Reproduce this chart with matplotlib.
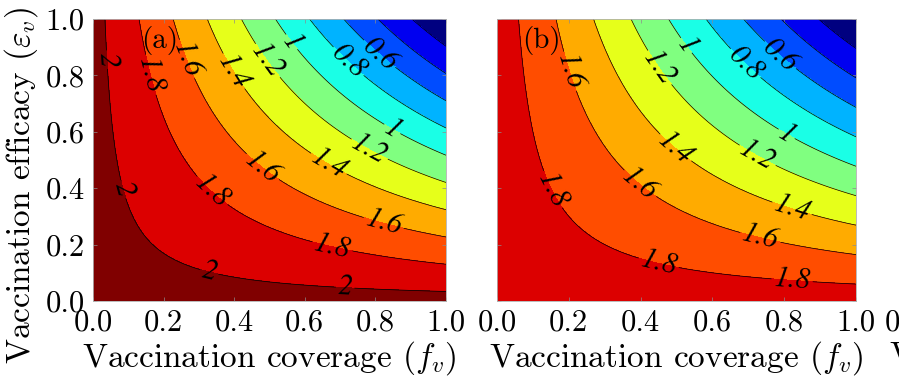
import numpy as np
import matplotlib.pyplot as plt

plt.rcParams['font.family'] = 'serif'
plt.rcParams['font.serif'] = ['cmr10']
plt.rcParams['mathtext.fontset'] = 'cm'
plt.rcParams['axes.unicode_minus'] = False

# reproduction number without vaccination
r0_a = 2.07
r0_b = 1.915

levels = [0.2, 0.4, 0.6, 0.8, 1.0, 1.2, 1.4, 1.6, 1.8, 2.0]
band_colors = ['#000080', '#0000f0', '#004cff', '#00b3ff', '#1affe6', '#80ff80',
               '#e6ff1a', '#ffab00', '#ff4d00', '#dc0000', '#800000']
ticks = [0.0, 0.2, 0.4, 0.6, 0.8, 1.0]
tick_labels = ['0.0', '0.2', '0.4', '0.6', '0.8', '1.0']
xlab = 'Vaccination coverage $(f_v)$'
ylab = 'Vaccination efficacy $(\\varepsilon_v)$'

# where the inline labels sit (coverage, efficacy)
labels_a = [(0.028, 0.855), (0.061, 0.388), (0.326, 0.086), (0.714, 0.039),
            (0.156, 0.80), (0.331, 0.382), (0.676, 0.181),
            (0.26, 0.855), (0.477, 0.47), (0.822, 0.27),
            (0.388, 0.807), (0.666, 0.482),
            (0.491, 0.849), (0.78, 0.53),
            (0.558, 0.914), (0.846, 0.606),
            (0.723, 0.849), (0.813, 0.878)]
labels_b = [(0.153, 0.394), (0.45, 0.134), (0.822, 0.074),
            (0.2, 0.813), (0.395, 0.411), (0.733, 0.222),
            (0.492, 0.535), (0.822, 0.329),
            (0.45, 0.825), (0.724, 0.512),
            (0.529, 0.908), (0.808, 0.595),
            (0.692, 0.843), (0.789, 0.872)]

f = np.linspace(0, 1, 301)
F, E = np.meshgrid(f, f)

fig = plt.figure(figsize=(8.99, 3.83), dpi=100)
W, H = 899, 383
ax_a = fig.add_axes([93 / W, (H - 301) / H, 353 / W, 282 / H])
ax_b = fig.add_axes([497 / W, (H - 301) / H, 359 / W, 282 / H])
ax_c = fig.add_axes([904 / W, (H - 301) / H, 359 / W, 282 / H])


def style(ax):
    ax.set_xlim(0, 1)
    ax.set_ylim(0, 1)
    ax.set_xticks(ticks)
    ax.set_xticklabels(tick_labels)
    ax.set_yticks(ticks)
    ax.tick_params(direction='in', length=3, width=0.5, color='#8c8c8c',
                   top=True, right=True, labelsize=22, pad=6)
    for s in ax.spines.values():
        s.set_color('#b0b0b0')
        s.set_linewidth(0.6)


for ax, r0, pos, tag, tx in [(ax_a, r0_a, labels_a, '(a)', 0.136),
                              (ax_b, r0_b, labels_b, '(b)', 0.07)]:
    R = r0 * (1 - F * E)
    ax.contourf(F, E, R, levels=[-1] + levels + [3], colors=band_colors)
    cs = ax.contour(F, E, R, levels=levels, colors='k', linewidths=0.5)
    txts = ax.clabel(cs, manual=pos, fmt=lambda v: f'{v:g}', fontsize=21,
                     inline=True, inline_spacing=2)
    for t in txts:
        t.set_fontfamily('STIXGeneral')
        t.set_fontstyle('italic')
    ax.text(tx, 0.925, tag, transform=ax.transAxes, fontsize=21,
            va='center', ha='left')
    style(ax)
    ax.set_xlabel(xlab, fontsize=24, labelpad=2)

ax_a.set_yticklabels(tick_labels)
ax_a.set_ylabel(ylab, fontsize=24)
ax_a.yaxis.set_label_coords(-0.15, 0.41)
ax_b.set_yticklabels([])
style(ax_c)
ax_c.set_yticklabels([])
fig.text(889 / W, 0.02, xlab, fontsize=24, ha='left', va='bottom')

fig.savefig('out.png', dpi=100)
